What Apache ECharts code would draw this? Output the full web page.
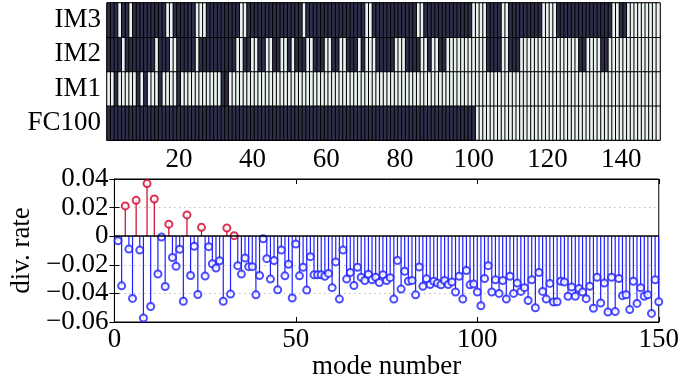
<!DOCTYPE html>
<html>
<head>
<meta charset="utf-8">
<script src="https://cdn.jsdelivr.net/npm/echarts@6/dist/echarts.min.js"></script>
<style>
  html, body { margin: 0; padding: 0; background: #fff; }
  #chart { width: 682px; height: 383px; }
</style>
</head>
<body>
<div id="chart"></div>
<script>
// rows of the selection map, bottom to top
const methods = ['FC100', 'IM1', 'IM2', 'IM3'];

// runs of selected (dark) modes per method, [first, last]
const fc100Runs = [[1, 100]];
const im1Runs = [[3, 3], [9, 9], [11, 11], [15, 15], [20, 20], [32, 33]];
const im2Runs = [[1, 4], [6, 13], [15, 17], [20, 24], [26, 35], [38, 39], [42, 43], [46, 47],
  [50, 50], [52, 54], [57, 59], [62, 63], [66, 68], [70, 70], [74, 78], [82, 85], [88, 88],
  [91, 92], [104, 107], [110, 112], [129, 130], [135, 136]];
const im3Runs = [[1, 3], [5, 6], [8, 16], [19, 24], [28, 36], [39, 53], [55, 70], [73, 84],
  [87, 99], [104, 107], [110, 118], [123, 137], [140, 141]];

// divergence rate per mode number 1..150
const divRate = [
  -0.0032, -0.0347, 0.0212, -0.0090, -0.0435, 0.0251, -0.0097, -0.0572, 0.0368, -0.0492,
  0.0260, -0.0264, -0.0006, -0.0352, 0.0084, -0.0149, -0.0210, -0.0091, -0.0455, 0.0149,
  -0.0275, -0.0070, -0.0408, 0.0062, -0.0279, -0.0073, -0.0193, -0.0222, -0.0172, -0.0455,
  0.0057, -0.0405, 0.0004, -0.0206, -0.0265, -0.0153, -0.0213, -0.0213, -0.0410, -0.0275,
  -0.0018, -0.0157, -0.0300, -0.0170, -0.0375, -0.0097, -0.0277, -0.0197, -0.0432, -0.0055,
  -0.0277, -0.0217, -0.0377, -0.0143, -0.0270, -0.0270, -0.0270, -0.0280, -0.0260, -0.0360,
  -0.0180, -0.0440, -0.0097, -0.0300, -0.0254, -0.0345, -0.0217, -0.0287, -0.0310, -0.0266,
  -0.0305, -0.0287, -0.0324, -0.0270, -0.0310, -0.0290, -0.0440, -0.0170, -0.0370, -0.0245,
  -0.0315, -0.0310, -0.0410, -0.0215, -0.0350, -0.0298, -0.0338, -0.0315, -0.0328, -0.0340,
  -0.0310, -0.0338, -0.0320, -0.0390, -0.0280, -0.0440, -0.0240, -0.0340, -0.0335, -0.0390,
  -0.0486, -0.0296, -0.0206, -0.0390, -0.0305, -0.0400, -0.0310, -0.0440, -0.0280, -0.0400,
  -0.0328, -0.0386, -0.0360, -0.0450, -0.0305, -0.0500, -0.0254, -0.0386, -0.0440, -0.0330,
  -0.0460, -0.0458, -0.0315, -0.0320, -0.0420, -0.0356, -0.0420, -0.0365, -0.0390, -0.0437,
  -0.0350, -0.0504, -0.0287, -0.0467, -0.0328, -0.0530, -0.0287, -0.0527, -0.0296, -0.0416,
  -0.0410, -0.0513, -0.0315, -0.0470, -0.0360, -0.0420, -0.0410, -0.0540, -0.0305, -0.0458
];

const modeCount = 150;
const modes = [];
for (let i = 1; i <= modeCount; i++) modes.push(i);

const DARK = '#2e2e4a';
const LIGHT = '#e9f2f0';
const BLUE = '#2020ff';
const RED = '#d1002a';
const FONT = '"Liberation Serif", "DejaVu Serif", serif';
const FS = 27;

// expand runs into heatmap cells [col, row, 0/1]
function buildCells() {
  const rows = [fc100Runs, im1Runs, im2Runs, im3Runs];
  const cells = [];
  rows.forEach((runs, r) => {
    const on = new Array(modeCount).fill(0);
    runs.forEach(([a, b]) => { for (let m = a; m <= b; m++) on[m - 1] = 1; });
    on.forEach((v, c) => cells.push([c, r, v]));
  });
  return cells;
}

const stemPoints = divRate.map((v, i) => [i + 1, v]);
const signColor = p => (p.value[1] >= 0 ? RED : BLUE);

const chart = echarts.init(document.getElementById('chart'));
chart.setOption({
  animation: false,
  grid: [
    { left: 107, top: 3, width: 553, height: 137, show: true, borderColor: '#000', borderWidth: 1 },
    { left: 107, top: 179, width: 553, height: 143, show: true, borderColor: '#000', borderWidth: 1 }
  ],
  visualMap: {
    show: false,
    type: 'piecewise',
    seriesIndex: 0,
    dimension: 2,
    pieces: [{ value: 0, color: LIGHT }, { value: 1, color: DARK }]
  },
  xAxis: [
    {
      type: 'category', gridIndex: 0, data: modes,
      axisLine: { lineStyle: { color: '#000' } },
      axisTick: { show: false },
      axisLabel: {
        interval: i => (i + 1) % 20 === 0,
        color: '#000', fontFamily: FONT, fontSize: FS, margin: 6
      },
      splitLine: { show: false }
    },
    {
      type: 'value', gridIndex: 1, min: 0, max: 150, interval: 50,
      axisLine: { onZero: false, lineStyle: { color: '#000' } },
      axisTick: { inside: true, length: 5, lineStyle: { color: '#000' } },
      axisLabel: { color: '#000', fontFamily: FONT, fontSize: FS, margin: 4 },
      splitLine: { show: false },
      name: 'mode number', nameLocation: 'middle', nameGap: 29,
      nameTextStyle: { color: '#000', fontFamily: FONT, fontSize: FS }
    },
    {
      type: 'value', gridIndex: 1, min: 0, max: 150, interval: 50, position: 'top',
      axisLine: { onZero: false, lineStyle: { color: '#000' } },
      axisTick: { inside: true, length: 5, lineStyle: { color: '#000' } },
      axisLabel: { show: false },
      splitLine: { show: false }
    }
  ],
  yAxis: [
    {
      type: 'category', gridIndex: 0, data: methods,
      axisLine: { lineStyle: { color: '#000' } },
      axisTick: { show: false },
      axisLabel: { interval: 0, color: '#000', fontFamily: FONT, fontSize: FS, margin: 6 }
    },
    {
      type: 'value', gridIndex: 1, min: -0.06, max: 0.04, interval: 0.02,
      axisLine: { lineStyle: { color: '#000' } },
      axisTick: { inside: true, length: 5, lineStyle: { color: '#000' } },
      axisLabel: {
        color: '#000', fontFamily: FONT, fontSize: FS, margin: 6,
        formatter: v => (Math.abs(v) < 1e-9 ? '0' : v.toFixed(2).replace('-', '\u2212'))
      },
      splitLine: { lineStyle: { color: '#9a9a9a', type: [1, 4] } },
      name: 'div. rate', nameLocation: 'middle', nameGap: 68, nameRotate: 90,
      nameTextStyle: { color: '#000', fontFamily: FONT, fontSize: FS }
    },
    {
      type: 'value', gridIndex: 1, min: -0.06, max: 0.04, interval: 0.02, position: 'right',
      axisLine: { lineStyle: { color: '#000' } },
      axisTick: { inside: true, length: 5, lineStyle: { color: '#000' } },
      axisLabel: { show: false },
      splitLine: { show: false }
    }
  ],
  series: [
    {
      type: 'heatmap', xAxisIndex: 0, yAxisIndex: 0,
      data: buildCells(),
      itemStyle: { borderColor: '#000', borderWidth: 1 },
      emphasis: { disabled: true }
    },
    {
      type: 'bar', xAxisIndex: 1, yAxisIndex: 1,
      data: stemPoints, barWidth: 1.2,
      itemStyle: { color: signColor }
    },
    {
      type: 'scatter', xAxisIndex: 1, yAxisIndex: 1,
      data: stemPoints, symbol: 'emptyCircle', symbolSize: 7,
      itemStyle: { color: signColor, borderColor: signColor, borderWidth: 1 },
      markLine: {
        silent: true, symbol: 'none', label: { show: false },
        lineStyle: { color: '#000', width: 1.5, type: 'solid' },
        data: [{ yAxis: 0 }]
      }
    }
  ]
});
</script>
</body>
</html>
